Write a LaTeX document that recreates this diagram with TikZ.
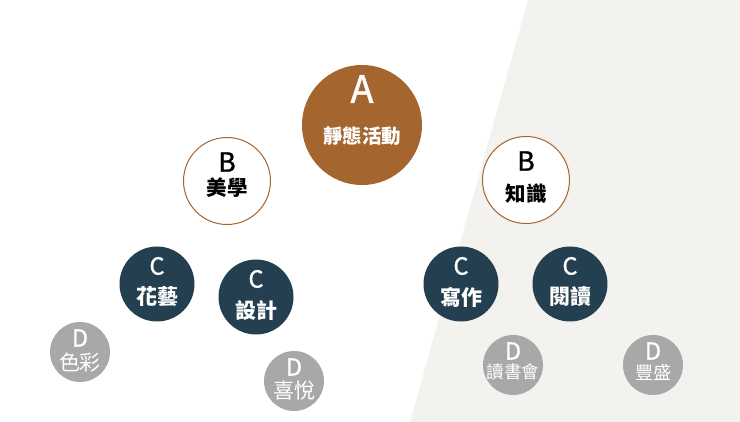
\documentclass[tikz,border=0pt]{standalone}
\usepackage{fontspec}
\newfontfamily\cjk{Noto Sans CJK TC}
\newfontfamily\cjkmid[FakeBold=1.2]{Noto Sans CJK TC}
\definecolor{actbrown}{HTML}{A5652F}
\definecolor{actnavy}{HTML}{243F4F}
\definecolor{actgrey}{HTML}{A8A8A8}
\definecolor{actpaper}{HTML}{F4F2EE}

\begin{document}
\begin{tikzpicture}[x=1pt, y=-1pt, font=\cjk]
    \tikzset{
        bubble/.style={circle, inner sep=0pt},
        level a/.style={bubble, fill=actbrown, minimum size=120pt},
        level b/.style={bubble, draw=actbrown, line width=1pt, fill=white, minimum size=87pt},
        level c/.style={bubble, fill=actnavy, minimum size=75pt},
        level d/.style={bubble, fill=actgrey, minimum size=60pt},
        tag/.style={inner sep=0pt, font=\cjkmid\fontsize{#1}{#1}\selectfont},
        word/.style={inner sep=0pt, font=\cjk\bfseries\fontsize{#1}{#1}\selectfont},
        thin word/.style={inner sep=0pt, font=\cjk\fontsize{#1}{#1}\selectfont}
    }
    \useasboundingbox (0,0) rectangle (740,422);
    \fill[white] (0,0) rectangle (740,422);
    \fill[actpaper] (528,0) -- (740,0) -- (740,422) -- (410,422) -- cycle;

    % top
    \node[level a] (act) at (362,125) {};
    \node[tag=38, white] (act-letter) at (362,89) {A};
    \node[word=19.5, white] (act-word) at (362,136) {靜態活動};

    % second row
    \foreach \nm/\x/\y/\dy/\txt in {beauty/227/181/7/美學, know/526/180/14/知識}{
        \node[level b] (\nm) at (\x,\y) {};
        \node[tag=26.5] (\nm-letter) at (\x,\y-19) {B};
        \node[word=20.5] (\nm-word) at (\x,\y+\dy) {\txt};
    }

    % third row
    \foreach \nm/\x/\y/\txt in {flower/157/284/花藝, design/256/297/設計,
                                write/461/284/寫作, read/570/284/閱讀}{
        \node[level c] (\nm) at (\x,\y) {};
        \node[tag=23.5, white] (\nm-letter) at (\x,\y-18) {C};
        \node[word=21, white] (\nm-word) at (\x,\y+13) {\txt};
    }

    % bottom row
    \foreach \nm/\x/\y/\dy/\fs/\txt in {colour/80/352/10/21/色彩, joy/294/381/10/21/喜悅,
                                        club/513/365/7/17.5/讀書會, rich/653/365/7/18/豐盛}{
        \node[level d] (\nm) at (\x,\y) {};
        \node[tag=23.5, white] (\nm-letter) at (\x,\y-14) {D};
        \node[thin word=\fs, white] (\nm-word) at (\x,\y+\dy) {\txt};
    }
\end{tikzpicture}
\end{document}
